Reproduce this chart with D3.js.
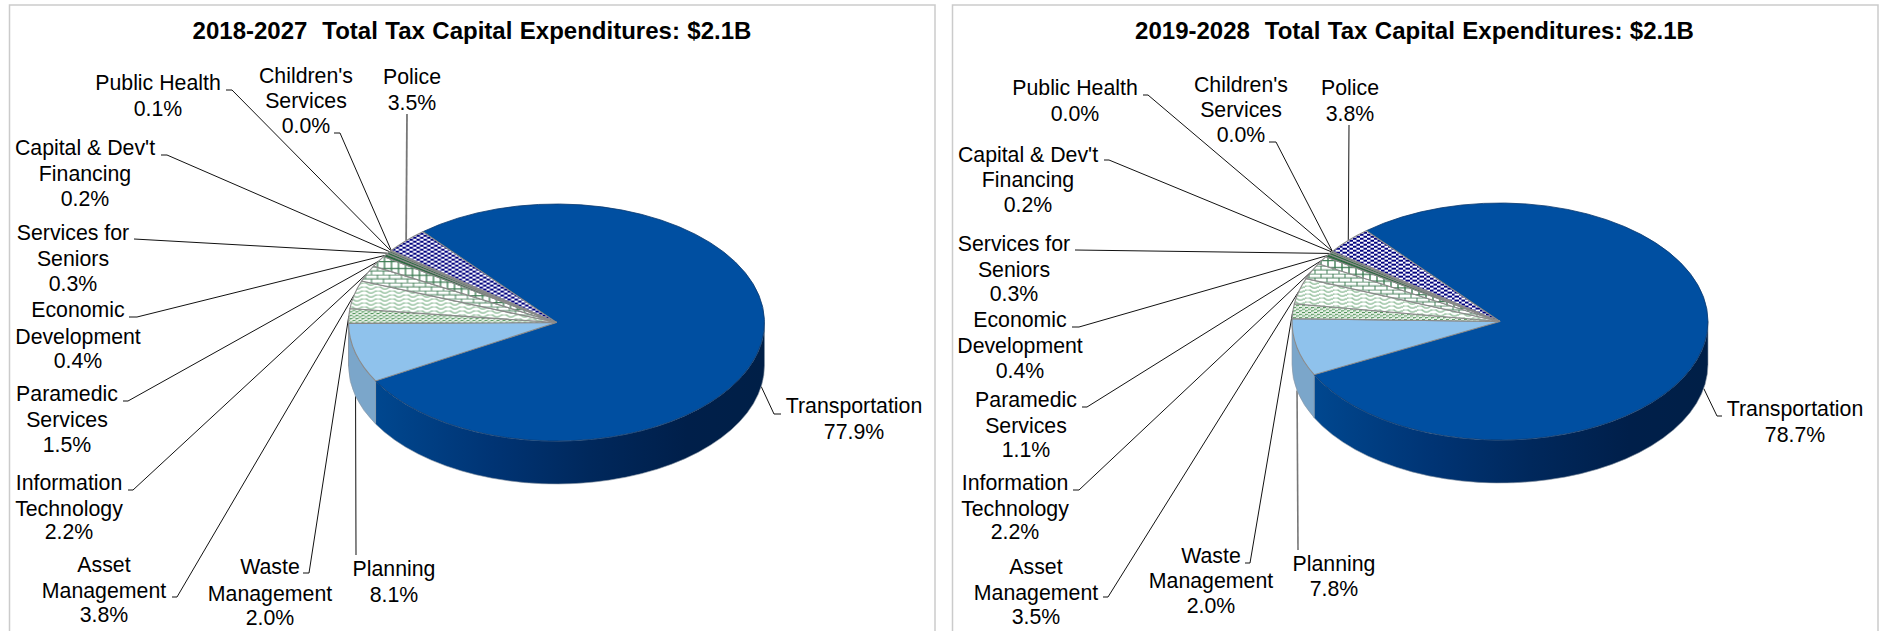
<!DOCTYPE html>
<html><head><meta charset="utf-8">
<script src="https://cdnjs.cloudflare.com/ajax/libs/d3/7.8.5/d3.min.js"></script>
<style>html,body{margin:0;background:#fff}svg{display:block}text{font-family:"Liberation Sans",Arial,sans-serif;fill:#000}</style>
</head><body><svg id="c" width="1881" height="631"></svg>
<script>
// ---- data ----
const categories = ["Transportation","Planning","Waste Management","Asset Management","Information Technology","Paramedic Services","Economic Development","Services for Seniors","Capital & Dev't Financing","Public Health","Children's Services","Police"];
const labelLines = [["Transportation"],["Planning"],["Waste","Management"],["Asset","Management"],["Information","Technology"],["Paramedic","Services"],["Economic","Development"],["Services for","Seniors"],["Capital & Dev't","Financing"],["Public Health"],["Children's","Services"],["Police"]];
const values2018 = [77.9,8.1,2.0,3.8,2.2,1.5,0.4,0.3,0.2,0.1,0.0,3.5];
const values2019 = [78.7,7.8,2.0,3.5,2.2,1.1,0.4,0.3,0.2,0.0,0.0,3.8];
const title2018 = "2018-2027  Total Tax Capital Expenditures: $2.1B";
const title2019 = "2019-2028  Total Tax Capital Expenditures: $2.1B";

// ---- layout (label centre x, baselines, leader start points), same order as categories ----
const layout2018 = [
 {x:854,y:[413,439],l:[[781,414],[774,414]]},
 {x:394,y:[576,602],l:[[356,555]]},
 {x:270,y:[574,601,625],l:[[303,573],[309,573]]},
 {x:104,y:[572,598,622],l:[[172,597],[177,597]]},
 {x:69,y:[490,516,539],l:[[128,490],[133,490]]},
 {x:67,y:[401,427,452],l:[[123,401],[128,401]]},
 {x:78,y:[317,344,368],l:[[129,317],[137,317]]},
 {x:73,y:[240,266,291],l:[[134,239]]},
 {x:85,y:[155,181,206],l:[[161,155],[167,155]]},
 {x:158,y:[90,116],l:[[226,90],[232,90]]},
 {x:306,y:[83,108,133],l:[[334,133],[340,133]]},
 {x:412,y:[84,110],l:[[407,114]],w:1.8}
];
const layout2019 = [
 {x:1795,y:[416,442],l:[[1722,416],[1717,416]]},
 {x:1334,y:[571,596],l:[[1298,550]],w:1.6},
 {x:1211,y:[563,588,613],l:[[1245,563],[1250,563]]},
 {x:1036,y:[574,600,624],l:[[1103,597],[1108,597]]},
 {x:1015,y:[490,516,539],l:[[1073,490],[1079,490]]},
 {x:1026,y:[407,433,457],l:[[1082,407],[1087,407]]},
 {x:1020,y:[327,353,378],l:[[1072,327],[1079,327]]},
 {x:1014,y:[251,277,301],l:[[1075,250]]},
 {x:1028,y:[162,187,212],l:[[1104,160],[1109,160]]},
 {x:1075,y:[95,121],l:[[1143,95],[1148,95]]},
 {x:1241,y:[92,117,142],l:[[1269,142],[1276,142]]},
 {x:1350,y:[95,121],l:[[1349,125]]}
];
const fills = ["#004fa1","#8fc2ec","url(#pWaste)","url(#pAsset)","url(#pIT)","url(#pPara)","#2e6b42","#2e6b42","#2e6b42","#2e6b42","#2e6b42","url(#pPolice)"];
const wallFills = ["url(#WALL)","#7ba6ca","#6f9f7f"];

const svg = d3.select("#c");
const defs = svg.append("defs");
const RX = 208, RY = 118.5, DEPTH = 43, K = RY / RX;

function pattern(id,w,h,bg,draw){
  const p = defs.append("pattern").attr("id",id).attr("patternUnits","userSpaceOnUse")
    .attr("width",w).attr("height",h).attr("patternTransform",`scale(1,${1/K})`);
  p.append("rect").attr("width",w).attr("height",h).attr("fill",bg);
  draw(p);
}
// pattern is inside a y-scaled group: heights are given in scaled units
pattern("pPolice",7,7*K,"#fff",p=>{
  p.append("rect").attr("width",3.5).attr("height",3.5*K).attr("fill","#00007f");
  p.append("rect").attr("x",3.5).attr("y",3.5*K).attr("width",3.5).attr("height",3.5*K).attr("fill","#00007f");
});
pattern("pWaste",6,6*K,"#e6f0e6",p=>{
  p.append("path").attr("d",`M0 ${1.5*K}h3v${1.5*K}h-3zM3 ${4.5*K}h3v${1.5*K}h-3z`).attr("fill","#4f9358");
  p.append("path").attr("d",`M3 0h1.5v${1.2*K}h-1.5zM0 ${4*K}h1.5v${1*K}h-1.5z`).attr("fill","#7fb586");
});
pattern("pAsset",14,7*K,"#fff",p=>{
  p.append("path").attr("d",`M0 ${2*K}C3 ${-1*K} 5 ${-1*K} 7 ${2*K}S11 ${6*K} 14 ${2*K}`).attr("fill","none").attr("stroke","#6aa777").attr("stroke-width",1.1);
});
pattern("pIT",12,14*K,"#fff",p=>{
  p.append("path").attr("d",`M0 ${.5*K}H12M0 ${7.5*K}H12M1 ${.5*K}V${7.5*K}M7 ${7.5*K}V${14*K}`).attr("fill","none").attr("stroke","#3f7d55").attr("stroke-width",1);
});
pattern("pPara",14,12*K,"#fff",p=>{
  p.append("path").attr("d",`M0 ${1*K}H14M3 0V${12*K}M10 0V${12*K}`).attr("fill","none").attr("stroke","#3f7d55").attr("stroke-width",1.4);
});
const grad = defs.append("linearGradient").attr("id","WALL").attr("gradientUnits","objectBoundingBox");
[[0,"#00478f"],[.3,"#003474"],[.55,"#00285c"],[.8,"#001f4a"],[1,"#001f47"]].forEach(s=>grad.append("stop").attr("offset",s[0]).attr("stop-color",s[1]));

function drawChart(cfg){
  const {values,layout,title,cx,cy,panel,titleX,startDeg} = cfg;
  const deg = Math.PI/180;
  svg.append("rect").attr("x",panel[0]).attr("y",5).attr("width",panel[1]-panel[0]).attr("height",700)
    .attr("fill","#fff").attr("stroke","#cbcbcb").attr("stroke-width",1.5);
  svg.append("text").attr("x",titleX).attr("y",39).attr("text-anchor","middle")
    .attr("font-size",cfg.titleSize).attr("font-weight","bold").style("white-space","pre").style("word-spacing","0.8px").text(title);

  const pie = d3.pie().sort(null).value(d=>d).startAngle(startDeg*deg).endAngle((startDeg+360)*deg);
  const arcs = pie(values);
  const pt = a=>[cx+RX*Math.sin(a), cy-RY*Math.cos(a)];

  // leaders below the pie
  const line = d3.line();
  arcs.forEach((d,i)=>{
    const mid = (d.startAngle+d.endAngle)/2;
    const p = pt(mid);
    const lower = Math.cos(mid) < 0 && Math.sin(mid)>-0.98;
    if(lower) p[1]+=DEPTH;
    const L = layout[i];
    svg.append("path").attr("d",line([...L.l,p])).attr("fill","none")
      .attr("stroke",L.w?"#777":"#111").attr("stroke-width",L.w||1);
  });

  // side wall, front half only (90 to 270 degrees, plus one turn)
  const lo = 90*deg+2*Math.PI, hi = 270*deg+2*Math.PI;
  arcs.forEach((d,i)=>{
    const a0=Math.max(d.startAngle,lo), a1=Math.min(d.endAngle,hi);
    if(a1<=a0) return;
    const [x0,y0]=pt(a0),[x1,y1]=pt(a1);
    const big=(a1-a0)>Math.PI?1:0;
    svg.append("path").attr("d",`M${x0} ${y0}A${RX} ${RY} 0 ${big} 1 ${x1} ${y1}L${x1} ${y1+DEPTH}A${RX} ${RY} 0 ${big} 0 ${x0} ${y0+DEPTH}Z`)
      .attr("fill",wallFills[Math.min(i,2)]).attr("stroke","#8b97a5").attr("stroke-width",.6);
  });

  // top faces
  const g = svg.append("g").attr("transform",`translate(${cx},${cy}) scale(1,${K})`);
  const arc = d3.arc().innerRadius(0).outerRadius(RX);
  g.selectAll("path").data(arcs).join("path")
    .attr("d",arc).attr("fill",(d,i)=>fills[i])
    .attr("stroke",(d,i)=>i===0?"#0b3a70":"#8a8a8a")
    .attr("stroke-width",(d,i)=>i===0?.8:1.1)
    .attr("vector-effect","non-scaling-stroke");

  // labels
  const fmt = d3.format(".1f");
  arcs.forEach((d,i)=>{
    const t = svg.append("text").attr("text-anchor","middle").attr("font-size",21.3).style("white-space","pre");
    [...labelLines[i], fmt(d.data)+"%"].forEach((s,j)=>{
      t.append("tspan").attr("x",layout[i].x).attr("y",layout[i].y[j]).text(s);
    });
  });
}
drawChart({values:values2018,layout:layout2018,title:title2018,cx:556.5,cy:322.5,panel:[9.5,935],titleX:472,startDeg:320,titleSize:24});
drawChart({values:values2019,layout:layout2019,title:title2019,cx:1500,cy:321.5,panel:[952.5,1878],titleX:1414.5,startDeg:320,titleSize:24});
</script></body></html>
